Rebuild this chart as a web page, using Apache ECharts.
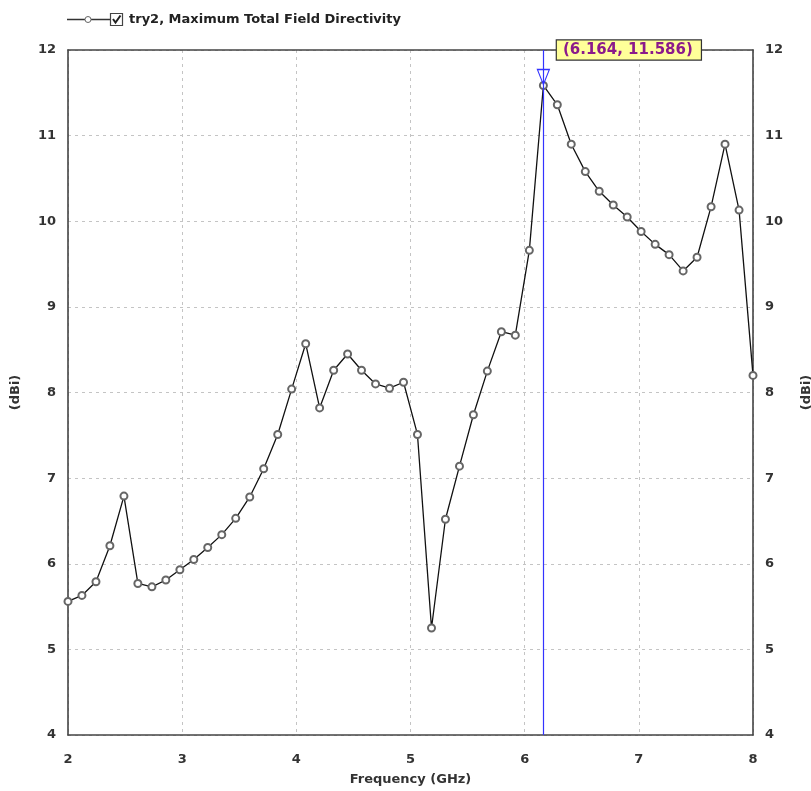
<!DOCTYPE html>
<html>
<head>
<meta charset="utf-8">
<script src="https://cdn.jsdelivr.net/npm/echarts@6/dist/echarts.min.js"></script>
<style>
html,body{margin:0;padding:0;background:#fff;}
#chart{width:811px;height:791px;}
</style>
</head>
<body>
<div id="chart"></div>
<script>
var seriesName = 'try2, Maximum Total Field Directivity';
var freqGHz = [2.000,2.122,2.245,2.367,2.490,2.612,2.735,2.857,2.980,3.102,
  3.224,3.347,3.469,3.592,3.714,3.837,3.959,4.082,4.204,4.327,
  4.449,4.571,4.694,4.816,4.939,5.061,5.184,5.306,5.429,5.551,
  5.673,5.796,5.918,6.041,6.164,6.286,6.408,6.531,6.653,6.776,
  6.898,7.020,7.143,7.265,7.388,7.510,7.633,7.755,7.878,8.000];
var directivity = [5.56,5.63,5.79,6.21,6.79,5.77,5.73,5.81,5.93,6.05,
  6.19,6.34,6.53,6.78,7.11,7.51,8.04,8.57,7.82,8.26,
  8.45,8.26,8.10,8.05,8.12,7.51,5.25,6.52,7.14,7.74,
  8.25,8.71,8.67,9.66,11.586,11.36,10.90,10.58,10.35,10.19,
  10.05,9.88,9.73,9.61,9.42,9.58,10.17,10.90,10.13,8.20];
var markerX = 6.164;
var markerY = 11.586;
var markerLabel = '(6.164, 11.586)';

var data = freqGHz.map(function(f,i){return [f, directivity[i]];});

var FONT = 'DejaVu Sans, Verdana, sans-serif';
var chart = echarts.init(document.getElementById('chart'));
var tickFont = {color:'#333', fontSize:13, fontWeight:'bold', fontFamily:FONT};
var nameFont = {color:'#333', fontSize:13, fontWeight:'bold', fontFamily:FONT};
var gridLine = {show:true, lineStyle:{color:'#c4c4c4', type:[3,4], width:1}};
var frameLine = {show:true, lineStyle:{color:'#444', width:1.6}};

function yAx(pos){
  return {
    type:'value', position:pos, min:4, max:12, interval:1,
    name:'(dBi)', nameLocation:'middle', nameGap: pos==='left' ? 46 : 47, nameRotate:90,
    nameTextStyle:nameFont,
    axisLine:frameLine, axisTick:{show:false},
    axisLabel:Object.assign({margin:12}, tickFont),
    splitLine: pos==='left' ? gridLine : {show:false}
  };
}

chart.setOption({
  animation:false,
  backgroundColor:'#fff',
  grid:{left:68, right:58, top:50, bottom:56, containLabel:false, outerBoundsMode:'none', show:false},
  xAxis:[{
    type:'value', position:'bottom', min:2, max:8, interval:1,
    name:'Frequency (GHz)', nameLocation:'middle', nameGap:38,
    nameTextStyle:nameFont,
    axisLine:frameLine, axisTick:{show:false},
    axisLabel:Object.assign({margin:18}, tickFont),
    splitLine:gridLine
  },{
    type:'value', position:'top', min:2, max:8, interval:1,
    axisLine:frameLine, axisTick:{show:false}, axisLabel:{show:false}, splitLine:{show:false}
  }],
  yAxis:[yAx('left'), yAx('right')],
  series:[{
    name:seriesName, type:'line', data:data,
    symbol:'emptyCircle', symbolSize:7,
    lineStyle:{color:'#111', width:1.3},
    itemStyle:{color:'#666', borderColor:'#666', borderWidth:1},
    markLine:{
      silent:true, symbol:['none','none'],
      lineStyle:{color:'#3333ff', width:1.2, type:'solid'},
      label:{show:false},
      data:[{xAxis:markerX}]
    },
    markPoint:{
      silent:true,
      data:[
        {coord:[markerX, 11.685], symbol:'triangle', symbolRotate:180, symbolSize:[12,15],
          itemStyle:{color:'rgba(255,255,255,0)', borderColor:'#3333ff', borderWidth:1.2}, label:{show:false}},
        {coord:[markerX, 12], symbol:'rect', symbolSize:1, itemStyle:{color:'rgba(0,0,0,0)'},
          label:{show:true, position:'right', distance:13, formatter:markerLabel,
            color:'#8b1a8b', fontSize:15, fontWeight:'bold', fontFamily:FONT,
            backgroundColor:'#ffff99', borderColor:'#333', borderWidth:1.2, padding:[2,8,2,6]}}
      ]
    }
  }],
  graphic:[
    {type:'line', shape:{x1:67, y1:19.5, x2:110, y2:19.5}, style:{stroke:'#333', lineWidth:1.4}, z:100},
    {type:'circle', shape:{cx:88, cy:19.5, r:3}, style:{fill:'#fff', stroke:'#666', lineWidth:1}, z:101},
    {type:'rect', shape:{x:110.5, y:13.5, width:12, height:12}, style:{fill:'#fff', stroke:'#444', lineWidth:1.2}, z:100},
    {type:'polyline', shape:{points:[[113,19],[115.5,22.5],[120.5,15.5]]}, style:{stroke:'#222', lineWidth:2, fill:null}, z:101},
    {type:'text', x:129, y:20, style:{text:seriesName, fill:'#222', font:'bold 13px ' + FONT, textVerticalAlign:'middle', textAlign:'left'}, z:100}
  ]
});
</script>
</body>
</html>
